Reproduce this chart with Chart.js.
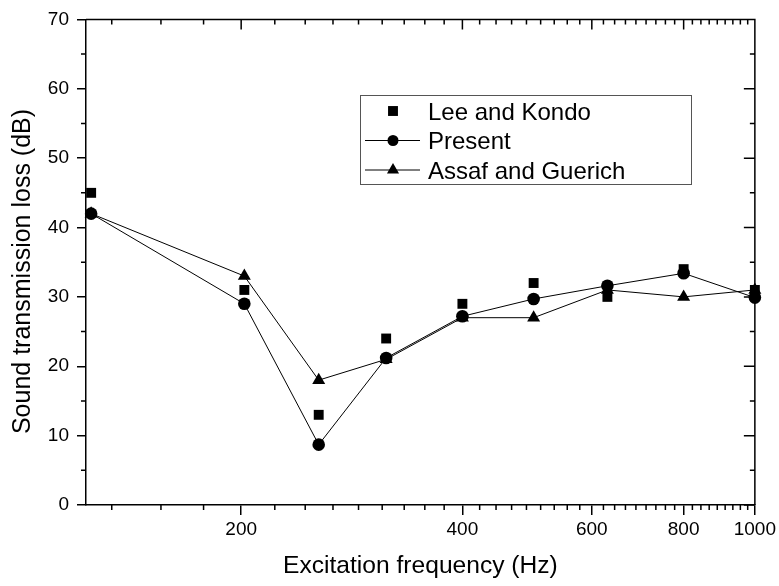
<!DOCTYPE html>
<html>
<head>
<meta charset="utf-8">
<script src="https://cdn.jsdelivr.net/npm/chart.js@4/dist/chart.umd.min.js"></script>
<style>
  html, body { margin: 0; padding: 0; background: #fff; }
  #wrap { width: 779px; height: 586px; }
</style>
</head>
<body>
<div id="wrap"><canvas id="grafico" width="779" height="586"></canvas></div>
<script>
// valores
const frequencies = [125, 202, 255, 315, 400, 500, 630, 800, 1000];
const leeKondo = [45, 31, 13, 24, 29, 32, 30, 34, 31];
const present = [42, 29, 8.7, 21.2, 27.2, 29.7, 31.6, 33.4, 29.9];
const assafGuerich = [42, 33, 18, 21, 27, 27, 31, 30, 31];
const xTicks = [200, 400, 600, 800, 1000];
const yTicks = [0, 10, 20, 30, 40, 50, 60, 70];
const seriesNames = ['Lee and Kondo', 'Present', 'Assaf and Guerich'];

const FONT = "'Liberation Sans', Arial, sans-serif";
const X_MIN = 123, X_MAX = 1000;

const toPoints = vals => vals.map((v, i) => ({ x: frequencies[i], y: v }));

// minor ticks: 8 between each labelled step (Origin style)
const xMinor = [];
for (let a = 0; a < 1000; a += 200) {
  for (let j = 1; j <= 8; j++) {
    const v = a + j * 200 / 9;
    if (v > X_MIN && v < X_MAX) xMinor.push(v);
  }
}
const yMinor = yTicks.slice(0, -1).map(v => v + 5);

const drawMark = (ctx, style, x, y, r) => {
  ctx.beginPath();
  if (style === 'rect') {
    const s = Math.SQRT1_2 * r;
    ctx.rect(x - s, y - s, 2 * s, 2 * s);
  } else if (style === 'circle') {
    ctx.arc(x, y, r, 0, Math.PI * 2);
  } else {
    ctx.moveTo(x, y - r);
    ctx.lineTo(x + 0.866 * r, y + r / 2);
    ctx.lineTo(x - 0.866 * r, y + r / 2);
    ctx.closePath();
  }
  ctx.fill();
};

const frame = {
  id: 'frame',
  afterDraw(chart) {
    const { ctx, chartArea: a, scales: { x, y } } = chart;
    ctx.save();
    ctx.strokeStyle = '#000';
    ctx.lineWidth = 1.5;
    ctx.beginPath();
    // top + right border
    ctx.moveTo(a.left, a.top); ctx.lineTo(a.right, a.top); ctx.lineTo(a.right, a.bottom);
    // major ticks, inside on top/right
    xTicks.forEach(v => {
      const px = x.getPixelForValue(v);
      ctx.moveTo(px, a.top); ctx.lineTo(px, a.top + 10);
    });
    yTicks.forEach(v => {
      const py = y.getPixelForValue(v);
      ctx.moveTo(a.right, py); ctx.lineTo(a.right - 11, py);
    });
    // minor ticks
    xMinor.forEach(v => {
      const px = x.getPixelForValue(v);
      ctx.moveTo(px, a.bottom); ctx.lineTo(px, a.bottom + 5);
      ctx.moveTo(px, a.top); ctx.lineTo(px, a.top + 5);
    });
    yMinor.forEach(v => {
      const py = y.getPixelForValue(v);
      ctx.moveTo(a.left, py); ctx.lineTo(a.left - 5, py);
      ctx.moveTo(a.right, py); ctx.lineTo(a.right - 5, py);
    });
    ctx.stroke();

    // y axis title (drawn here so it sits like the original, a bit low)
    ctx.fillStyle = '#000';
    ctx.font = '25px ' + FONT;
    ctx.textAlign = 'center';
    ctx.textBaseline = 'alphabetic';
    ctx.save();
    ctx.translate(30, 271.5);
    ctx.rotate(-Math.PI / 2);
    ctx.fillText('Sound transmission loss (dB)', 0, 0);
    ctx.restore();

    // leyenda
    ctx.lineWidth = 1;
    ctx.strokeStyle = '#555';
    ctx.strokeRect(360.5, 95.5, 331, 89);
    ctx.strokeStyle = '#000';
    ctx.font = '24px ' + FONT;
    ctx.textAlign = 'left';
    chart.data.datasets.forEach((ds, i) => {
      const base = 119.5 + i * 29.5;
      const cy = base - 8.5;
      if (ds.showLine !== false) {
        ctx.beginPath();
        ctx.moveTo(365, cy); ctx.lineTo(420, cy);
        ctx.stroke();
      }
      drawMark(ctx, ds.pointStyle, 393, cy, ds.pointStyle === 'circle' ? 5.5 : 7);
      ctx.fillText(ds.label, 428, base);
    });
    ctx.restore();
  }
};

const ds = (label, vals, style, radius, showLine, order) => ({
  label,
  data: toPoints(vals),
  showLine,
  borderColor: '#000',
  borderWidth: 1,
  backgroundColor: '#000',
  pointStyle: style,
  pointRadius: radius,
  pointHoverRadius: radius,
  pointBackgroundColor: '#000',
  pointBorderColor: '#000',
  pointBorderWidth: 0,
  tension: 0,
  clip: false,
  order
});

const tickFont = { family: FONT, size: 19 };

new Chart(document.getElementById('grafico').getContext('2d'), {
  type: 'scatter',
  data: {
    datasets: [
      ds(seriesNames[0], leeKondo, 'rect', 7, false, 2),
      ds(seriesNames[1], present, 'circle', 6.3, true, 0),
      ds(seriesNames[2], assafGuerich, 'triangle', 7.5, true, 1)
    ]
  },
  options: {
    responsive: false,
    animation: false,
    devicePixelRatio: 1,
    layout: { padding: { top: 16, right: 22, left: 0, bottom: 0 } },
    plugins: { legend: { display: false }, tooltip: { enabled: false } },
    scales: {
      x: {
        type: 'logarithmic',
        min: X_MIN,
        max: X_MAX,
        afterBuildTicks: s => { s.ticks = xTicks.map(v => ({ value: v })); },
        afterFit: s => { s.height = 81; },
        ticks: { callback: v => String(v), color: '#000', font: tickFont, padding: 3, maxRotation: 0, autoSkip: false },
        grid: { drawOnChartArea: false, drawTicks: true, tickLength: 10, color: '#000', lineWidth: 1.5 },
        border: { color: '#000', width: 1.5 },
        title: { display: true, text: 'Excitation frequency (Hz)', color: '#000', font: { family: FONT, size: 24.6 }, padding: { top: 0, bottom: 5 } }
      },
      y: {
        min: 0,
        max: 70,
        afterBuildTicks: s => { s.ticks = yTicks.map(v => ({ value: v })); },
        afterFit: s => { s.width = 86; },
        ticks: { color: '#000', font: tickFont, padding: 8 },
        grid: { drawOnChartArea: false, drawTicks: true, tickLength: 9, color: '#000', lineWidth: 1.5 },
        border: { color: '#000', width: 1.5 }
      }
    }
  },
  plugins: [frame]
});
</script>
</body>
</html>
